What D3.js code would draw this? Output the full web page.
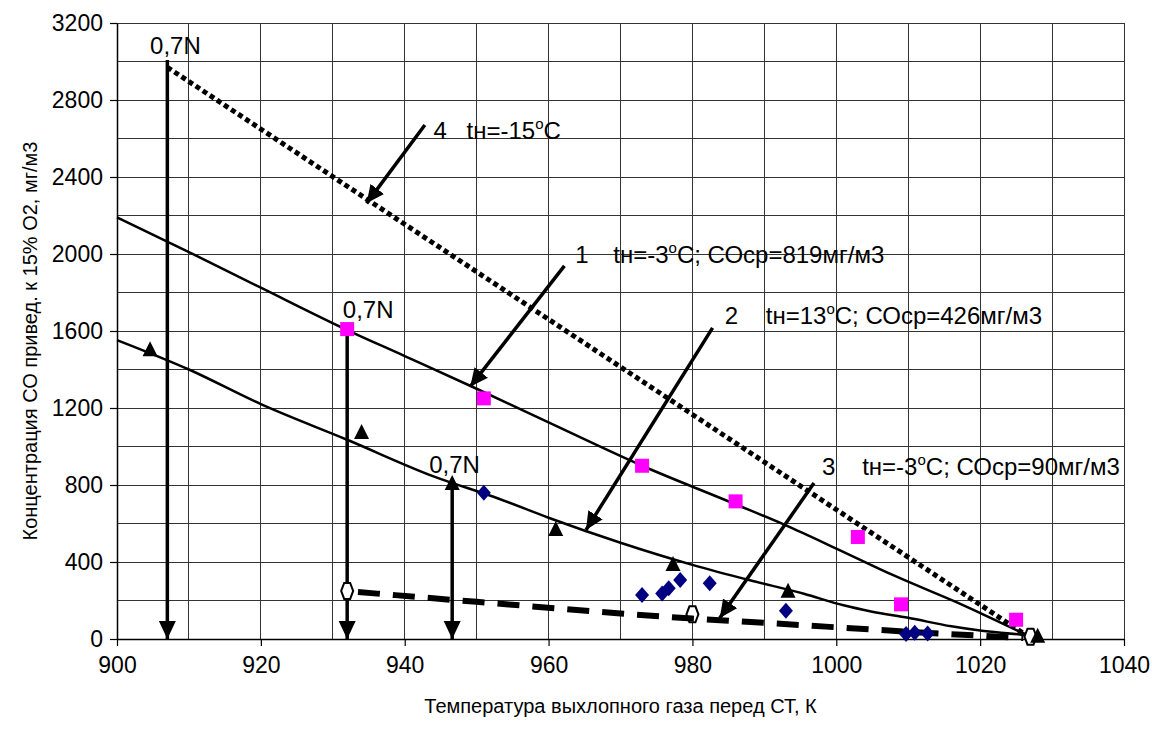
<!DOCTYPE html>
<html>
<head>
<meta charset="utf-8">
<script src="https://cdn.jsdelivr.net/npm/d3@7"></script>
<style>
  body { margin: 0; background: #fff; }
  text { font-family: "Liberation Sans", Arial, sans-serif; fill: #000; }
</style>
</head>
<body>
<svg width="1152" height="740"></svg>
<script>
// chart values
var xTicks = [900, 920, 940, 960, 980, 1000, 1020, 1040];
var yTicks = [0, 400, 800, 1200, 1600, 2000, 2400, 2800, 3200];

// curve 1 (tн=-3°C; COср=819)
var curve1 = [[900,2190],[910,2010],[920,1825],[932,1605],[940,1470],[950,1300],[960,1125],
  [973,900],[986,700],[993,590],[1000,470],[1008,330],[1018,170],[1026,30],[1027.5,5]];
// curve 2 (tн=13°C; COср=426)
var curve2 = [[900,1553],[910,1400],[920,1220],[932,1035],[944,845],[953,730],[960,630],
  [970,500],[980,385],[988,305],[995.5,235],[1001,175],[1005,142],[1010,110],
  [1016,66],[1020,44],[1026,21],[1028,10]];
// line 3 (tн=-3°C; COср=90), dashed
var line3 = [[933.5,244],[950,193],[970,133],[980,106],[990,84],[1010,38],[1026,5]];
// line 4 (tн=-15°C), dotted
var line4 = [[907,2970],[1027,5]];

var squares = [[932,1610],[951,1250],[973,900],[986,715],[1003,530],[1009,180],[1025,100]];
var triangles = [[904.6,1500],[934,1070],[946.6,805],[961,566],[977.3,384],[993.3,246],[1028,12]];
var diamonds = [[951,760],[973,228],[975.8,237],[976.7,263],[978.3,306],[982.4,289],[993,147],
  [1009.7,26],[1010.9,33],[1012.7,29]];
var hexagons = [[932,250],[980,128],[1027,12]];

// vertical "0,7N" arrows: x, top value
var dropArrows = [[907,3008],[932,1610],[946.6,800]];
var nLabels = [[904.6,3040,"0,7N"],[931.4,1666,"0,7N"],[943.4,860,"0,7N"]];

// annotation arrows: from (x,y) to (x,y) in data units
var notes = [
  {num: "4", pre: "tн=-15", post: "C", from: [942.8,2670], to: [934.7,2263], nx: 944, tx: 948.6, ty: 2600},
  {num: "1", pre: "tн=-3", post: "C; СОср=819мг/м3", from: [962.2,1938], to: [949.1,1311], nx: 963.7, tx: 969, ty: 1955},
  {num: "2", pre: "tн=13", post: "C; СОср=426мг/м3", from: [982.8,1616], to: [965.2,566], nx: 984.5, tx: 990.2, ty: 1636},
  {num: "3", pre: "tн=-3", post: "C; СОср=90мг/м3", from: [996.9,810], to: [983.8,109], nx: 998, tx: 1003.6, ty: 852}
];

var svg = d3.select("svg");
var margin = {left: 117, right: 28, top: 23, bottom: 101};
var W = 1152, H = 740;

var x = d3.scaleLinear().domain([900, 1040]).range([margin.left, W - margin.right]);
var y = d3.scaleLinear().domain([0, 3200]).range([H - margin.bottom, margin.top]);

// grid
var grid = svg.append("g").attr("stroke", "#333").attr("stroke-width", 1).attr("shape-rendering", "crispEdges");
grid.selectAll(".gx").data(d3.range(910, 1041, 10)).enter().append("line")
  .attr("x1", d => x(d)).attr("x2", d => x(d)).attr("y1", y(0)).attr("y2", y(3200));
grid.selectAll(".gy").data(d3.range(200, 3201, 200)).enter().append("line")
  .attr("x1", x(900)).attr("x2", x(1040)).attr("y1", d => y(d)).attr("y2", d => y(d));

// axes
var xAxis = svg.append("g").attr("transform", "translate(0," + y(0) + ")")
  .call(d3.axisBottom(x).tickValues(xTicks).tickFormat(d3.format("d")).tickSize(7).tickPadding(11).tickSizeOuter(0));
var yAxis = svg.append("g").attr("transform", "translate(" + x(900) + ",0)")
  .call(d3.axisLeft(y).tickValues(yTicks).tickFormat(d3.format("d")).tickSize(7).tickPadding(7).tickSizeOuter(0));
[xAxis, yAxis].forEach(function(a) {
  a.select(".domain").attr("stroke", "#000").attr("stroke-width", 1.5);
  a.selectAll(".tick line").attr("stroke", "#000").attr("stroke-width", 1.2);
  a.selectAll("text").style("font-size", "23px").style("font-family", "'Liberation Sans', Arial, sans-serif");
});

svg.append("text").attr("x", (x(900) + x(1040)) / 2).attr("y", 713)
  .attr("text-anchor", "middle").style("font-size", "20px")
  .text("Температура выхлопного газа перед СТ, К");
svg.append("text").attr("transform", "translate(37," + ((y(0) + y(3200)) / 2 + 10) + ") rotate(-90)")
  .attr("text-anchor", "middle").style("font-size", "20px")
  .text("Концентрация СО привед. к 15% О2, мг/м3");

var line = d3.line().x(d => x(d[0])).y(d => y(d[1]));
var smooth = d3.line().curve(d3.curveMonotoneX).x(d => x(d[0])).y(d => y(d[1]));

// defs for arrowheads
var defs = svg.append("defs");
defs.append("marker").attr("id", "head")
  .attr("viewBox", "0 -9 18 18").attr("refX", 18).attr("refY", 0)
  .attr("markerWidth", 18).attr("markerHeight", 18)
  .attr("markerUnits", "userSpaceOnUse").attr("orient", "auto")
  .append("path").attr("d", "M0,-8.5L18,0L0,8.5Z").attr("fill", "#000");

// curves
svg.append("path").datum(curve1).attr("d", smooth).attr("fill", "none").attr("stroke", "#000").attr("stroke-width", 2.5);
svg.append("path").datum(curve2).attr("d", smooth).attr("fill", "none").attr("stroke", "#000").attr("stroke-width", 2.5);

// vertical arrows
svg.selectAll(".drop").data(dropArrows).enter().append("line")
  .attr("x1", d => x(d[0])).attr("x2", d => x(d[0]))
  .attr("y1", d => y(d[1])).attr("y2", y(0))
  .attr("stroke", "#000").attr("stroke-width", 3.5).attr("marker-end", "url(#head)");

// dotted line 4
svg.append("path").datum(line4).attr("d", line).attr("fill", "none")
  .attr("stroke", "#000").attr("stroke-width", 5).attr("stroke-dasharray", "5,3.5");

// hexagon markers
function hexPath(cx, cy) {
  var w = 6, h = 8;
  return "M" + (cx - w) + "," + cy + "L" + (cx - w / 2) + "," + (cy - h) + "L" + (cx + w / 2) + "," + (cy - h)
    + "L" + (cx + w) + "," + cy + "L" + (cx + w / 2) + "," + (cy + h) + "L" + (cx - w / 2) + "," + (cy + h) + "Z";
}
svg.selectAll(".hex").data(hexagons).enter().append("path")
  .attr("d", d => hexPath(x(d[0]), y(d[1])))
  .attr("fill", "#fff").attr("stroke", "#000").attr("stroke-width", 2);

// dashed line 3
svg.append("path").datum(line3).attr("d", smooth).attr("fill", "none")
  .attr("stroke", "#000").attr("stroke-width", 6).attr("stroke-dasharray", "22,13");

// points
svg.selectAll(".sq").data(squares).enter().append("rect")
  .attr("x", d => x(d[0]) - 7).attr("y", d => y(d[1]) - 7).attr("width", 14).attr("height", 14)
  .attr("fill", "#ff00ff");
svg.selectAll(".dm").data(diamonds).enter().append("path")
  .attr("d", d => { var cx = x(d[0]), cy = y(d[1]); return "M" + cx + "," + (cy - 8) + "L" + (cx + 7) + "," + cy + "L" + cx + "," + (cy + 8) + "L" + (cx - 7) + "," + cy + "Z"; })
  .attr("fill", "#000080");
svg.selectAll(".tr").data(triangles).enter().append("path")
  .attr("d", d => { var cx = x(d[0]), cy = y(d[1]); return "M" + cx + "," + (cy - 9) + "L" + (cx + 7.5) + "," + (cy + 6) + "L" + (cx - 7.5) + "," + (cy + 6) + "Z"; })
  .attr("fill", "#000");

// 0,7N labels
svg.selectAll(".nl").data(nLabels).enter().append("text")
  .attr("x", d => x(d[0])).attr("y", d => y(d[1]))
  .style("font-size", "24px").text(d => d[2]);

// annotations
notes.forEach(function(n) {
  svg.append("line")
    .attr("x1", x(n.from[0])).attr("y1", y(n.from[1]))
    .attr("x2", x(n.to[0])).attr("y2", y(n.to[1]))
    .attr("stroke", "#000").attr("stroke-width", 3.5).attr("marker-end", "url(#head)");
  svg.append("text").attr("x", x(n.nx)).attr("y", y(n.ty)).style("font-size", "24px").text(n.num);
  var t = svg.append("text").attr("x", x(n.tx)).attr("y", y(n.ty)).style("font-size", "24px");
  t.append("tspan").text(n.pre);
  t.append("tspan").attr("dy", -10).style("font-size", "15px").text("o");
  t.append("tspan").attr("dy", 10).text(n.post);
});
</script>
</body>
</html>
